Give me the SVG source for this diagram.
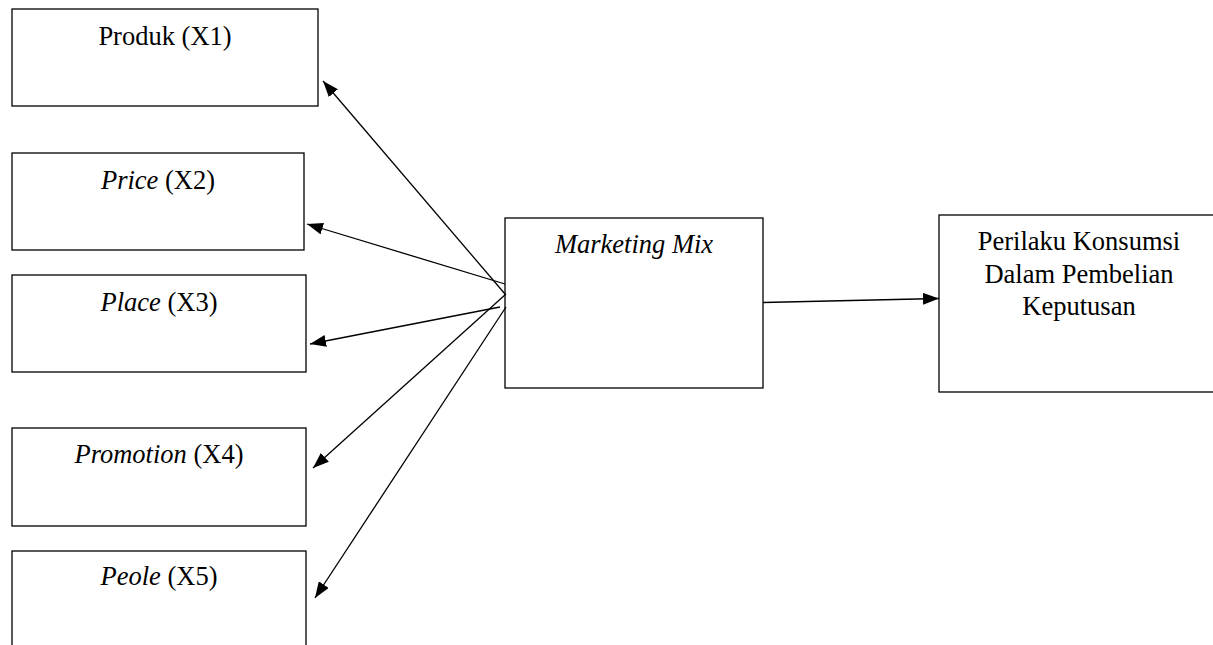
<svg xmlns="http://www.w3.org/2000/svg" width="1213" height="645" viewBox="0 0 1213 645">
<style>
.box{fill:#fff;stroke:#000;stroke-width:1.3}
.t{font-family:"Liberation Serif","Times New Roman",serif;font-size:26.5px;fill:#000;text-anchor:middle}
.i{font-style:italic}
.c{stroke:#000;stroke-width:1.3;fill:none;marker-end:url(#ah)}
</style>
<defs>
<marker id="ah" viewBox="0 0 16 12" refX="16" refY="6" markerWidth="16" markerHeight="12" markerUnits="userSpaceOnUse" orient="auto">
<path d="M0,0 L16,6 L0,12 Z" fill="#000"/>
</marker>
</defs>
<rect width="1213" height="645" fill="#fff"/>
<g id="n1"><rect class="box" x="12" y="9" width="306" height="97"/><text class="t" x="165" y="45">Produk (X1)</text></g>
<g id="n2"><rect class="box" x="12" y="153" width="292" height="97"/><text class="t" x="158" y="189"><tspan class="i">Price</tspan> (X2)</text></g>
<g id="n3"><rect class="box" x="12" y="275" width="294" height="97"/><text class="t" x="159" y="311"><tspan class="i">Place</tspan> (X3)</text></g>
<g id="n4"><rect class="box" x="12" y="428" width="294" height="98"/><text class="t" x="159" y="463"><tspan class="i">Promotion</tspan> (X4)</text></g>
<g id="n5"><rect class="box" x="12" y="551" width="294" height="110"/><text class="t" x="159" y="585"><tspan class="i">Peole</tspan> (X5)</text></g>
<g id="mm"><rect class="box" x="505" y="218" width="258" height="170"/><text class="t i" x="634" y="253">Marketing Mix</text></g>
<g id="pk"><rect class="box" x="939" y="215" width="280" height="177"/><text class="t" x="1079" y="250">Perilaku Konsumsi</text><text class="t" x="1079" y="283">Dalam Pembelian</text><text class="t" x="1079" y="315">Keputusan</text></g>
<g id="connectors">
<line class="c" x1="505" y1="294" x2="323" y2="81"/>
<line class="c" x1="505" y1="284" x2="307" y2="224"/>
<line class="c" x1="500" y1="307" x2="310" y2="344"/>
<line class="c" x1="506" y1="294" x2="313" y2="468"/>
<line class="c" x1="506" y1="307" x2="315" y2="598"/>
<line class="c" x1="763" y1="302.5" x2="939" y2="298.5"/>
</g>
</svg>
